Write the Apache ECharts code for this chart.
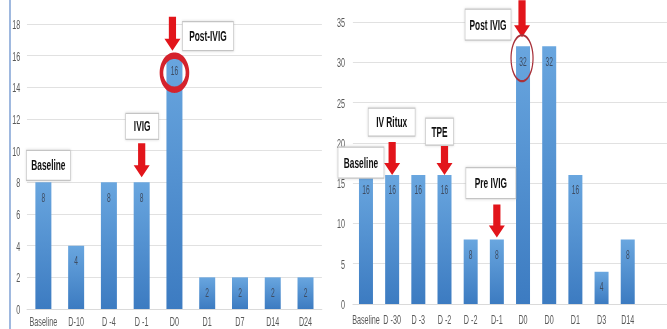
<!DOCTYPE html>
<html>
<head>
<meta charset="utf-8">
<script src="https://cdn.jsdelivr.net/npm/echarts@6/dist/echarts.min.js"></script>
<style>
  html, body { margin: 0; padding: 0; background: #fff; overflow: hidden; width: 667px; height: 329px; }
  #wrap { position: relative; width: 667px; height: 329px; overflow: hidden; }
  /* the drawing is laid out wide and squeezed horizontally, like the condensed source figure */
  #chart { position: absolute; left: 0; top: 0; width: 1201px; height: 329px; transform: scaleX(0.55537); transform-origin: 0 0; }
</style>
</head>
<body>
<div id="wrap"><div id="chart"></div></div>
<script>
// horizontal stretch of the drawing surface (undone by the CSS transform)
const SX = 1.8;

// Panel A: titres over time
const leftCats = ['Baseline', 'D-10', 'D -4', 'D -1', 'D0', 'D1', 'D7', 'D14', 'D24'];
const leftVals = [8, 4, 8, 8, 16, 2, 2, 2, 2];
const leftTicks = [0, 2, 4, 6, 8, 10, 12, 14, 16, 18];

// Panel B: titres over time
const rightCats = ['Baseline', 'D -30', 'D -3', 'D -2', 'D -2', 'D-1', 'D0', 'D0', 'D1', 'D3', 'D14'];
const rightVals = [16, 16, 16, 16, 8, 8, 32, 32, 16, 4, 8];
const rightTicks = [0, 5, 10, 15, 20, 25, 30, 35];

// callouts: which bar they point at, and the label text
const leftNotes = [
  { idx: 0, text: 'Baseline' },
  { idx: 3, text: 'IVIG', arrow: true },
  { idx: 4, text: 'Post-IVIG', arrow: true, ring: 'bold' }
];
const rightNotes = [
  { idx: 0, text: 'Baseline' },
  { idx: 1, text: 'IV Ritux', arrow: true },
  { idx: 3, text: 'TPE', arrow: true },
  { idx: 5, text: 'Pre IVIG', arrow: true },
  { idx: 6, text: 'Post IVIG', arrow: true, ring: 'thin' }
];

// callout geometry, in on-screen pixels relative to the bar's top-centre
// box: [left, right, top, bottom]; arrow: [xOffset, shaftTop, tip]; ring: [dx, dy, rx, ry]
const leftLayout = [
  { box: [-17, 27, -32, -2] },
  { box: [-16, 17, -69, -43], arrow: [0, -39, -5] },
  { box: [8, 59, -34, -5], arrow: [-2, -39, -5], ring: [0, 17, 13, 17] }
];
const rightLayout = [
  { box: [-28, 18, -28, 3] },
  { box: [-24, 23, -67, -39], arrow: [0, -33, 0] },
  { box: [-19, 9, -57, -30], arrow: [0, -29, 0] },
  { box: [-31, 19, -72, -41], arrow: [0, -35, -2] },
  { box: [-58, -12, -37, -6], arrow: [-1, -46, -9], ring: [-1, 12, 11, 23] }
];

const FONT = 'Liberation Sans, Arial, sans-serif';
const barFill = new echarts.graphic.LinearGradient(0, 0, 0, 1, [
  { offset: 0, color: '#69a6df' },
  { offset: 1, color: '#3c7bc1' }
]);

function yAxisFor(ticks, gridIndex, margin) {
  return {
    type: 'value', gridIndex: gridIndex,
    min: ticks[0], max: ticks[ticks.length - 1], interval: ticks[1] - ticks[0],
    axisLine: { show: false }, axisTick: { show: false },
    axisLabel: { color: '#595959', fontSize: 13, fontFamily: FONT, margin: margin },
    splitLine: { lineStyle: { color: '#d9d9d9', width: 1 } }
  };
}
function xAxisFor(cats, gridIndex, margin, max) {
  const ax = {
    type: 'category', gridIndex: gridIndex, data: cats,
    axisLine: { show: true, lineStyle: { color: '#d9d9d9' } },
    axisTick: { show: false },
    axisLabel: {
      color: '#595959', fontSize: 13, fontFamily: FONT, margin: margin, interval: 0,
      formatter: function (v) { return v == null ? '' : v; }
    }
  };
  if (max != null) ax.max = max;
  return ax;
}
function barSeries(vals, idx, width) {
  return {
    type: 'bar', xAxisIndex: idx, yAxisIndex: idx, data: vals,
    barWidth: width,
    itemStyle: { color: barFill },
    label: {
      show: true, position: 'insideTop', distance: 9,
      color: '#3e4d63', fontSize: 12, fontFamily: FONT
    },
    z: 2
  };
}

const chart = echarts.init(document.getElementById('chart'), null, { renderer: 'svg' });

chart.setOption({
  backgroundColor: '#ffffff',
  animation: false,
  grid: [
    { left: 27 * SX, top: 24, width: 295 * SX, height: 285 },
    { left: 353 * SX, top: 22, width: 316.8 * SX, height: 282 }
  ],
  xAxis: [
    xAxisFor(leftCats, 0, 6),
    xAxisFor(rightCats, 1, 9, rightCats.length)
  ],
  yAxis: [
    yAxisFor(leftTicks, 0, 12),
    yAxisFor(rightTicks, 1, 14)
  ],
  series: [
    barSeries(leftVals, 0, 16 * SX),
    barSeries(rightVals, 1, 14 * SX)
  ]
});

// build callout boxes, arrows and rings anchored on the bars
function callouts(notes, layout, cats, vals, axisIndex) {
  const out = [];
  notes.forEach(function (n, i) {
    const L = layout[i];
    const p = chart.convertToPixel({ xAxisIndex: axisIndex, yAxisIndex: axisIndex }, [n.idx, vals[n.idx]]);
    const cx = p[0], top = p[1];
    const b = L.box;
    out.push({
      type: 'rect', z: 20,
      shape: { x: cx + b[0] * SX, y: top + b[2], width: (b[1] - b[0]) * SX, height: b[3] - b[2] },
      style: { fill: '#ffffff', stroke: '#c4c4c4', lineWidth: 1.2, shadowBlur: 3, shadowColor: 'rgba(0,0,0,0.15)' }
    });
    out.push({
      type: 'text', z: 21,
      x: cx + (b[0] + b[1]) / 2 * SX, y: top + (b[2] + b[3]) / 2,
      style: { text: n.text, fill: '#111111', font: 'bold 15px ' + FONT, align: 'center', verticalAlign: 'middle' }
    });
    if (n.arrow) {
      const a = L.arrow;
      const x = cx + a[0] * SX, y0 = top + a[1], tip = top + a[2];
      const sw = 3.6 * SX, hw = 8 * SX, hl = 12;
      out.push({
        type: 'polygon', z: 22,
        shape: { points: [
          [x - sw, y0], [x + sw, y0], [x + sw, tip - hl], [x + hw, tip - hl],
          [x, tip], [x - hw, tip - hl], [x - sw, tip - hl]
        ] },
        style: { fill: '#e2151b' }
      });
    }
    if (n.ring) {
      const r = L.ring;
      const ecx = cx + r[0] * SX, ecy = top + r[1];
      const rx = r[2] * SX, ry = r[3];
      const pts = [];
      for (let k = 0; k < 72; k++) {
        const t = k / 72 * Math.PI * 2;
        pts.push([ecx + rx * Math.cos(t), ecy + ry * Math.sin(t)]);
      }
      out.push({
        type: 'polygon', z: 23, shape: { points: pts },
        style: n.ring === 'bold'
          ? { fill: 'none', stroke: '#d4222c', lineWidth: 6.5 }
          : { fill: 'none', stroke: '#a8313a', lineWidth: 2.2 }
      });
    }
  });
  return out;
}

const graphics = [
  // thin blue frame line down the left edge
  { type: 'line', z: 30, shape: { x1: 10 * SX, y1: 0, x2: 10 * SX, y2: 329 },
    style: { stroke: '#6f95cf', lineWidth: 2.4 } }
].concat(
  callouts(leftNotes, leftLayout, leftCats, leftVals, 0),
  callouts(rightNotes, rightLayout, rightCats, rightVals, 1)
);

chart.setOption({ graphic: graphics });
</script>
</body>
</html>
